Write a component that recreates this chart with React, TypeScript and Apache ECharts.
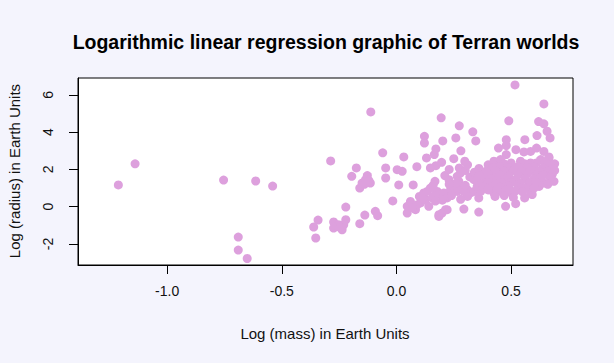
import React, { useEffect, useRef } from "react";
import * as echarts from "echarts";

// log10(mass), log(radius) pairs
const lowMassPlanets: number[][] = [
  [-1.213, 1.17], [-1.14, 2.3], [-0.754, 1.43], [-0.614, 1.38], [-0.54, 1.11],
  [-0.69, -1.63], [-0.69, -2.33], [-0.651, -2.78],
];

const midMassPlanets: number[][] = [
  [-0.361, -1.09], [-0.352, -1.68], [-0.342, -0.72],
  [-0.287, 2.46], [-0.274, -0.82], [-0.274, -1.15], [-0.252, -0.97], [-0.237, -1.24], [-0.23, -0.97], [-0.26, -1.05], [-0.245, -1.12],
  [-0.221, -0.7], [-0.221, -0.02], [-0.16, -0.91], [-0.138, -0.45], [-0.092, -0.25], [-0.082, -0.48],
  [-0.195, 1.63], [-0.175, 2.08], [-0.127, 1.67], [-0.135, 1.45], [-0.114, 1.27], [-0.15, 1.27], [-0.16, 1.0], [-0.14, 1.2], [-0.12, 1.4],
  [-0.112, 5.09], [-0.06, 2.89], [-0.047, 2.08], [-0.047, 1.54], [-0.016, 0.31], [0.003, 1.99], [0.025, 1.9], [0.01, 1.17],
];

const earthLikePlanets: number[][] = [
  [0.032, 2.67], [0.073, 1.17], [0.089, 2.15], [0.122, 3.78], [0.122, 3.42], [0.131, 2.62], [0.165, 2.8], [0.172, 3.1],
  [0.195, 4.77], [0.202, 3.53], [0.197, 2.38], [0.172, 2.2], [0.148, 2.08], [0.211, 1.67], [0.229, 1.45], [0.265, 1.63],
  [0.272, 1.36], [0.168, 1.36], [0.25, 2.58], [0.259, 3.69], [0.274, 4.34], [0.281, 3.0], [0.298, 2.44], [0.274, 2.08],
  [0.279, 1.81], [0.333, 4.02], [0.346, 3.53], [0.23, 2.0], [0.3, 1.95], [0.32, 1.6], [0.31, 2.25],
  [0.047, -0.34], [0.047, 0.02], [0.061, 0.28], [0.083, -0.16], [0.105, 0.2], [0.127, 0.38], [0.141, 0.02], [0.156, 0.47],
  [0.119, 0.74], [0.134, 0.82], [0.148, 1.0], [0.185, -0.52], [0.199, -0.34], [0.221, -0.16], [0.294, -0.13], [0.359, -0.29],
  [0.178, 0.82], [0.192, 0.65], [0.207, 0.74], [0.221, 0.47], [0.236, 0.91], [0.25, 1.09], [0.265, 0.82], [0.279, 1.0],
  [0.294, 0.82], [0.309, 0.91], [0.323, 0.74], [0.338, 0.82],
  [0.09, 0.1], [0.07, -0.05], [0.115, 0.45], [0.165, 0.6], [0.2, 0.35], [0.24, 0.6], [0.26, 1.25], [0.3, 1.15],
  [0.31, 0.55], [0.17, 0.3], [0.1, 0.55], [0.28, 0.4], [0.23, 1.2], [0.16, 1.15], [0.214, -0.16], [0.185, -0.43],
];

const heavyPlanets: number[][] = [
  [0.359, 0.47], [0.367, 0.82], [0.352, 1.09], [0.338, 1.45], [0.367, 1.81], [0.389, 1.54], [0.418, 1.72], [0.425, 0.74],
  [0.454, 0.82], [0.476, 0.02], [0.501, 0.74], [0.52, 0.16], [0.559, 0.47], [0.592, 0.65], [0.575, 1.13], [0.622, 1.09],
  [0.643, 1.27], [0.687, 1.36], [0.585, 0.74],
  [0.517, 6.54], [0.643, 5.52], [0.49, 4.61], [0.62, 4.57], [0.643, 4.45], [0.657, 4.05], [0.67, 3.69], [0.613, 3.82],
  [0.479, 3.6], [0.56, 3.6], [0.445, 3.15], [0.479, 3.28], [0.521, 3.06], [0.556, 2.94], [0.585, 2.97], [0.611, 3.15],
  [0.643, 2.97], [0.665, 2.67], [0.479, 2.8], [0.425, 2.44], [0.454, 2.53], [0.541, 2.44], [0.585, 2.35], [0.629, 2.53],
  [0.665, 2.62], [0.672, 2.26],
  [0.4, 2.25], [0.47, 2.3], [0.5, 2.35], [0.56, 2.3], [0.61, 2.35], [0.65, 2.4], [0.69, 2.3],
  [0.36, 2.05], [0.42, 2.1], [0.45, 2.15], [0.49, 2.1], [0.53, 2.15], [0.57, 2.1], [0.6, 2.15], [0.64, 2.1], [0.68, 2.05],
  [0.34, 1.85], [0.39, 1.9], [0.43, 1.95], [0.47, 1.9], [0.51, 1.95], [0.55, 1.9], [0.59, 1.95], [0.62, 1.9], [0.66, 1.9], [0.69, 1.95],
  [0.36, 1.65], [0.4, 1.7], [0.45, 1.7], [0.49, 1.65], [0.53, 1.7], [0.57, 1.75], [0.61, 1.7], [0.64, 1.7], [0.68, 1.75],
  [0.35, 1.4], [0.41, 1.5], [0.44, 1.45], [0.48, 1.5], [0.52, 1.45], [0.56, 1.5], [0.6, 1.5], [0.63, 1.55], [0.67, 1.55],
  [0.37, 1.25], [0.4, 1.3], [0.43, 1.25], [0.46, 1.3], [0.5, 1.3], [0.54, 1.25], [0.58, 1.3], [0.61, 1.3], [0.66, 1.2],
  [0.38, 1.05], [0.42, 1.1], [0.45, 1.05], [0.49, 1.1], [0.53, 1.05], [0.56, 1.0], [0.6, 1.0],
  [0.4, 0.9], [0.44, 0.95], [0.48, 0.9], [0.52, 0.85], [0.55, 0.8], [0.47, 0.6], [0.43, 0.55], [0.51, 0.5],
];

const xTicks = [-1.0, -0.5, 0.0, 0.5];
const yTicks = [-2, 0, 2, 4, 6];

const titleText = "Logarithmic linear regression graphic of Terran worlds";
const xTitle = "Log (mass) in Earth Units";
const yTitle = "Log (radius) in Earth Units";

const FONT = "Liberation Sans, Arial, sans-serif";

export default function App() {
  const ref = useRef<HTMLDivElement>(null);
  useEffect(() => {
    if (!ref.current) return;
    const chart = echarts.init(ref.current, undefined, { renderer: "svg" });
    const allPoints = [...lowMassPlanets, ...midMassPlanets, ...earthLikePlanets, ...heavyPlanets];
    chart.setOption({
      animation: false,
      backgroundColor: "#f4f4fd",
      textStyle: { fontFamily: FONT },
      grid: {
        left: 78, right: 41, top: 78, bottom: 98,
        show: true, backgroundColor: "#ffffff", borderColor: "#000000", borderWidth: 1,
      },
      xAxis: {
        type: "value",
        min: -1.389,
        max: 0.77,
        splitLine: { show: false },
        axisLine: { show: true, onZero: false, lineStyle: { color: "#000", width: 1 } },
        axisTick: { show: true, length: 9, customValues: xTicks, lineStyle: { color: "#000" } },
        axisLabel: {
          customValues: xTicks,
          formatter: (v: number) => v.toFixed(1),
          fontSize: 14, color: "#111", margin: 19, fontFamily: FONT,
        },
      },
      yAxis: {
        type: "value",
        min: -3.13,
        max: 6.91,
        splitLine: { show: false },
        axisLine: { show: true, onZero: false, lineStyle: { color: "#000", width: 1 } },
        axisTick: { show: true, length: 9, customValues: yTicks, lineStyle: { color: "#000" } },
        axisLabel: {
          customValues: yTicks,
          formatter: (v: number) => String(v),
          rotate: 90,
          fontSize: 14, color: "#111", margin: 23, fontFamily: FONT,
        },
      },
      graphic: [
        {
          type: "text", x: 326, y: 42,
          style: { text: titleText, font: `bold 19.5px ${FONT}`, fill: "#000", textAlign: "center", textVerticalAlign: "middle" },
        },
        {
          type: "text", x: 325, y: 333,
          style: { text: xTitle, font: `15px ${FONT}`, fill: "#111", textAlign: "center", textVerticalAlign: "middle" },
        },
        {
          type: "text", x: 14, y: 171, rotation: Math.PI / 2,
          style: { text: yTitle, font: `15px ${FONT}`, fill: "#111", textAlign: "center", textVerticalAlign: "middle" },
        },
      ],
      series: [
        {
          type: "scatter",
          data: allPoints,
          symbol: "circle",
          symbolSize: 9,
          itemStyle: { color: "#DDA0DD", opacity: 1 },
        },
      ],
    });
    return () => chart.dispose();
  }, []);
  return <div ref={ref} style={{ position: "fixed", left: 0, top: 0, width: 614, height: 363 }} />;
}
